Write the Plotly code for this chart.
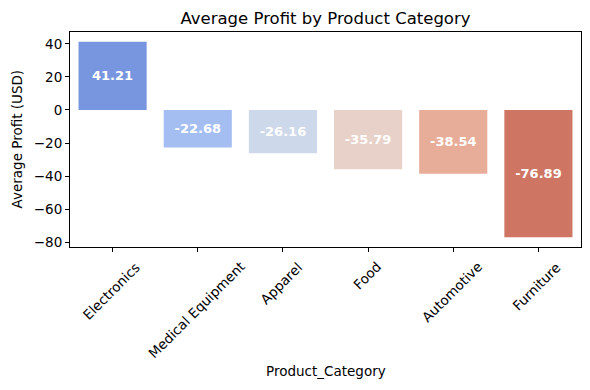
import plotly.graph_objects as go

categories = ["Electronics", "Medical Equipment", "Apparel", "Food", "Automotive", "Furniture"]
avg_profit = [41.21, -22.68, -26.16, -35.79, -38.54, -76.89]
bar_colors = ["#7896e0", "#a5bef2", "#cdd8ea", "#e8d1c8", "#e8ad98", "#cf7564"]
y_ticks = [-80, -60, -40, -20, 0, 20, 40]

FONT = "DejaVu Sans"
OFF = 8  # browser default body margin
W, H = 590 - OFF, 390 - OFF
L, R, T = 70 - OFF, 9, 32 - OFF
B = H - (247.5 - OFF)

plot_h = H - T - B
plot_w = W - L - R

fig = go.Figure()
fig.add_trace(go.Bar(
    x=list(range(len(categories))),
    y=avg_profit,
    width=0.8,
    marker=dict(color=bar_colors, line=dict(width=0)),
    text=[f"{v:.2f}" for v in avg_profit],
    textposition="inside",
    insidetextanchor="middle",
    textangle=0,
    textfont=dict(family=FONT, size=13, color="white", weight="bold"),
    hoverinfo="skip",
))

for i, c in enumerate(categories):
    fig.add_annotation(
        x=i, y=0, xref="x", yref="paper", yshift=-9, xshift=-1.5,
        text=c, textangle=-45, showarrow=False,
        xanchor="center", yanchor="top",
        font=dict(family=FONT, size=13.5, color="black"),
    )

# x axis title
fig.add_annotation(
    x=0.5, xref="paper", y=-(372 - 247.5) / plot_h, yref="paper",
    text="Product_Category", showarrow=False, xanchor="center", yanchor="middle",
    font=dict(family=FONT, size=13.5, color="black"),
)
# y axis title
fig.add_annotation(
    x=(16 - 70) / plot_w, xref="paper", y=0.5, yref="paper",
    text="Average Profit (USD)", textangle=-90, showarrow=False,
    xanchor="center", yanchor="middle",
    font=dict(family=FONT, size=13.5, color="black"),
)

lo = min(avg_profit + [0]); hi = max(avg_profit + [0])
pad = (hi - lo) * 0.05

fig.update_layout(
    width=W, height=H,
    margin=dict(l=L, r=R, t=T, b=B, autoexpand=False),
    paper_bgcolor="white", plot_bgcolor="white",
    showlegend=False,
    bargap=0.2,
    title=dict(text="Average Profit by Product Category", x=(L + W - R) / 2 / W, xanchor="center",
               y=1 - (18 - OFF) / H, yanchor="middle",
               font=dict(family=FONT, size=16.5, color="black")),
    font=dict(family=FONT, color="black"),
)
fig.update_xaxes(
    range=[-0.5, len(categories) - 0.5],
    tickvals=list(range(len(categories))),
    showticklabels=False,
    ticks="outside", ticklen=4, tickcolor="black", tickwidth=1,
    showline=True, linecolor="black", linewidth=1, mirror=True,
    showgrid=False, zeroline=False, automargin=False,
)
fig.update_yaxes(
    range=[lo - pad, hi + pad],
    tickvals=y_ticks,
    ticks="outside", ticklen=4, tickcolor="black", tickwidth=1,
    tickfont=dict(family=FONT, size=13.5, color="black"),
    showline=True, linecolor="black", linewidth=1, mirror=True,
    showgrid=False, zeroline=False, automargin=False,
)
fig.write_html("out.html")
